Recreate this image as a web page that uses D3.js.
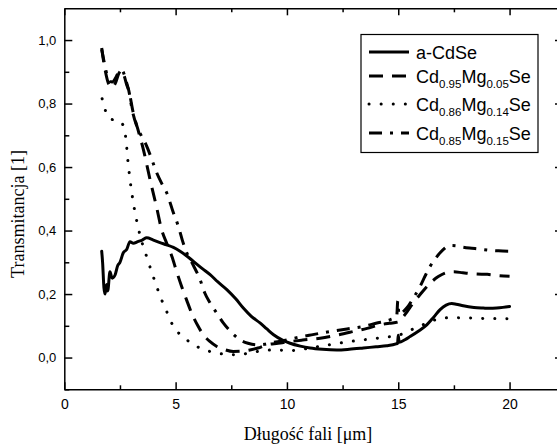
<!DOCTYPE html>
<html>
<head>
<meta charset="utf-8">
<script src="https://cdn.jsdelivr.net/npm/d3@7"></script>
<style>
body { margin: 0; background: #fff; }
svg { display: block; }
</style>
</head>
<body>
<svg width="557" height="447"></svg>
<script>
// wavelength [um] / transmittance for each sample
const cdseX = [1.68, 1.72, 1.78, 1.83, 1.9, 1.95, 2.05, 2.15, 2.28, 2.4, 2.5, 2.65, 2.8, 2.95, 3.1, 3.3, 3.5, 3.7, 4.0, 4.3, 4.6, 4.9, 5.2, 5.5, 5.8, 6.2, 6.55, 6.9, 7.3, 7.7, 8.04, 8.4, 8.79, 9.1, 9.4, 9.8, 10.14, 10.6, 11.04, 11.6, 12.24, 12.8, 13.43, 14.0, 14.48, 14.9, 14.97, 15.0, 15.04, 15.3, 15.53, 15.9, 16.28, 16.6, 16.88, 17.15, 17.4, 17.6, 17.92, 18.4, 18.82, 19.1, 19.42, 19.7, 20.0];
const cdseY = [0.335, 0.30, 0.22, 0.20, 0.23, 0.21, 0.27, 0.25, 0.26, 0.29, 0.30, 0.33, 0.34, 0.365, 0.36, 0.365, 0.37, 0.377, 0.37, 0.362, 0.355, 0.347, 0.335, 0.32, 0.303, 0.28, 0.261, 0.238, 0.214, 0.185, 0.156, 0.13, 0.109, 0.09, 0.072, 0.055, 0.045, 0.036, 0.03, 0.026, 0.024, 0.026, 0.03, 0.034, 0.037, 0.043, 0.045, 0.07, 0.048, 0.056, 0.066, 0.083, 0.103, 0.128, 0.151, 0.165, 0.170, 0.168, 0.163, 0.158, 0.156, 0.155, 0.156, 0.158, 0.161];

const mg05X = [1.68, 1.75, 1.85, 1.95, 2.05, 2.15, 2.3, 2.45, 2.58, 2.7, 2.8, 2.9, 3.1, 3.3, 3.55, 3.85, 4.15, 4.37, 4.6, 4.83, 5.05, 5.27, 5.5, 5.72, 6.0, 6.24, 6.55, 6.85, 7.2, 7.59, 8.0, 8.34, 8.7, 9.09, 9.6, 10.1, 10.7, 11.49, 12.2, 12.98, 13.6, 14.18, 14.6, 15.0, 15.3, 15.6, 16.0, 16.4, 16.8, 17.2, 17.5, 17.9, 18.5, 19.0, 19.5, 20.0];
const mg05Y = [0.975, 0.94, 0.90, 0.87, 0.855, 0.85, 0.865, 0.895, 0.905, 0.885, 0.86, 0.84, 0.77, 0.72, 0.656, 0.561, 0.472, 0.403, 0.36, 0.319, 0.27, 0.224, 0.18, 0.14, 0.10, 0.072, 0.05, 0.035, 0.025, 0.019, 0.02, 0.024, 0.03, 0.04, 0.045, 0.05, 0.055, 0.061, 0.07, 0.082, 0.092, 0.103, 0.108, 0.112, 0.135, 0.165, 0.2, 0.232, 0.255, 0.268, 0.27, 0.267, 0.263, 0.262, 0.258, 0.256];

const mg14X = [1.7, 1.8, 1.9, 2.0, 2.13, 2.3, 2.43, 2.55, 2.65, 2.72, 2.77, 2.85, 2.95, 3.1, 3.32, 3.5, 3.66, 4.0, 4.37, 4.6, 4.9, 5.2, 5.5, 5.8, 6.1, 6.5, 6.85, 7.3, 7.74, 8.2, 8.64, 9.0, 9.39, 10.14, 10.6, 11.04, 11.6, 12.3, 13.0, 13.7, 14.4, 15.0, 15.5, 16.0, 16.5, 17.0, 17.5, 18.0, 18.5, 19.0, 19.5, 20.0];
const mg14Y = [0.815, 0.79, 0.766, 0.755, 0.75, 0.748, 0.745, 0.74, 0.73, 0.71, 0.687, 0.624, 0.561, 0.488, 0.409, 0.36, 0.326, 0.254, 0.182, 0.145, 0.098, 0.073, 0.056, 0.04, 0.03, 0.02, 0.014, 0.01, 0.009, 0.013, 0.019, 0.022, 0.024, 0.022, 0.025, 0.03, 0.037, 0.045, 0.052, 0.058, 0.064, 0.07, 0.085, 0.1, 0.115, 0.124, 0.126, 0.125, 0.124, 0.123, 0.123, 0.122];

const mg15X = [1.68, 1.75, 1.85, 1.95, 2.05, 2.15, 2.3, 2.45, 2.58, 2.7, 2.8, 2.9, 3.05, 3.25, 3.45, 3.7, 3.9, 4.15, 4.4, 4.6, 4.9, 5.12, 5.3, 5.5, 5.8, 6.1, 6.3, 6.55, 6.85, 7.14, 7.5, 7.89, 8.25, 8.64, 9.0, 9.39, 9.8, 10.14, 11.0, 11.93, 12.7, 13.43, 14.0, 14.63, 14.93, 14.98, 15.03, 15.2, 15.38, 15.7, 15.98, 16.2, 16.43, 16.65, 16.88, 17.1, 17.33, 17.6, 17.9, 18.2, 18.6, 19.1, 19.5, 19.95];
const mg15Y = [0.97, 0.945, 0.91, 0.885, 0.87, 0.868, 0.88, 0.9, 0.905, 0.89, 0.865, 0.84, 0.78, 0.73, 0.70, 0.666, 0.63, 0.582, 0.545, 0.519, 0.456, 0.414, 0.37, 0.33, 0.29, 0.245, 0.205, 0.172, 0.14, 0.109, 0.08, 0.056, 0.045, 0.040, 0.042, 0.048, 0.052, 0.058, 0.07, 0.082, 0.09, 0.098, 0.108, 0.119, 0.13, 0.178, 0.135, 0.143, 0.156, 0.19, 0.224, 0.256, 0.287, 0.31, 0.33, 0.345, 0.353, 0.352, 0.348, 0.345, 0.342, 0.338, 0.336, 0.335];

const xMajor = [0, 5, 10, 15, 20];
const xMinor = [2.5, 7.5, 12.5, 17.5, 22.5];
const yMajor = [0, 0.2, 0.4, 0.6, 0.8, 1.0];
const yMinor = [-0.1, 0.1, 0.3, 0.5, 0.7, 0.9];

// legend labels as [text, subscript] pieces
const legendLabels = [
  [["a-CdSe", ""]],
  [["Cd", "0.95"], ["Mg", "0.05"], ["Se", ""]],
  [["Cd", "0.86"], ["Mg", "0.14"], ["Se", ""]],
  [["Cd", "0.85"], ["Mg", "0.15"], ["Se", ""]]
];

const series = [
  { xs: cdseX, ys: cdseY, dash: null, cap: "round" },
  { xs: mg05X, ys: mg05Y, dash: "14,9", cap: "butt" },
  { xs: mg14X, ys: mg14Y, dash: "0.1,12", cap: "round" },
  { xs: mg15X, ys: mg15Y, dash: "13,8,3,8", cap: "butt" }
];

const svg = d3.select("svg");
const plotLeft = 64.3, plotRight = 563, plotTop = 8.3, plotBottom = 389.3;

const x = d3.scaleLinear().domain([0, 22.4]).range([plotLeft, plotRight]);
const y = d3.scaleLinear().domain([-0.1, 1.1]).range([plotBottom, plotTop]);

const fmt = d => d3.format(".1f")(d).replace(".", ",");

function styleAxis(g) {
  g.selectAll("path, line").attr("stroke", "#000").attr("stroke-width", 1.5);
  g.selectAll("text").attr("fill", "#000")
    .style("font-family", "'Liberation Sans', Arial, sans-serif");
}

// bottom
svg.append("g").attr("transform", "translate(0," + plotBottom + ")")
  .call(d3.axisBottom(x).tickValues(xMajor).tickSizeInner(-7).tickSizeOuter(0).tickPadding(10).tickFormat(d3.format("d")))
  .call(styleAxis)
  .call(g => g.selectAll("text").style("font-size", "14px"));
svg.append("g").attr("transform", "translate(0," + plotBottom + ")")
  .call(d3.axisBottom(x).tickValues(xMinor).tickSize(-4).tickFormat(""))
  .call(styleAxis).call(g => g.select(".domain").remove());

// top
svg.append("g").attr("transform", "translate(0," + plotTop + ")")
  .call(d3.axisTop(x).tickValues(xMajor).tickSizeInner(-7).tickSizeOuter(0).tickFormat(""))
  .call(styleAxis);
svg.append("g").attr("transform", "translate(0," + plotTop + ")")
  .call(d3.axisTop(x).tickValues(xMinor).tickSize(-4).tickFormat(""))
  .call(styleAxis).call(g => g.select(".domain").remove());

// left
svg.append("g").attr("transform", "translate(" + plotLeft + ",0)")
  .call(d3.axisLeft(y).tickValues(yMajor).tickSizeInner(-8).tickSizeOuter(0).tickPadding(8).tickFormat(fmt))
  .call(styleAxis)
  .call(g => g.selectAll("text").style("font-size", "13px"));
svg.append("g").attr("transform", "translate(" + plotLeft + ",0)")
  .call(d3.axisLeft(y).tickValues(yMinor).tickSize(-5).tickFormat(""))
  .call(styleAxis).call(g => g.select(".domain").remove());

// right
svg.append("g").attr("transform", "translate(" + plotRight + ",0)")
  .call(d3.axisRight(y).tickValues(yMajor).tickSizeInner(-8).tickSizeOuter(0).tickFormat(""))
  .call(styleAxis);
svg.append("g").attr("transform", "translate(" + plotRight + ",0)")
  .call(d3.axisRight(y).tickValues(yMinor).tickSize(-5).tickFormat(""))
  .call(styleAxis).call(g => g.select(".domain").remove());

// curves
const line = d3.line()
  .x(d => x(d[0]))
  .y(d => y(d[1]))
  .curve(d3.curveMonotoneX);

series.forEach(s => {
  const pts = s.xs.map((v, i) => [v, s.ys[i]]);
  svg.append("path")
    .datum(pts)
    .attr("fill", "none")
    .attr("stroke", "#000")
    .attr("stroke-width", 3)
    .attr("stroke-linecap", s.cap)
    .attr("stroke-linejoin", "round")
    .attr("stroke-dasharray", s.dash)
    .attr("d", line);
});

// legend
const legend = svg.append("g");
legend.append("rect")
  .attr("x", 361).attr("y", 34.5).attr("width", 177).attr("height", 118)
  .attr("fill", "#fff").attr("stroke", "#000").attr("stroke-width", 1.2);

const rowY = [52, 76, 104, 133];
legendLabels.forEach((parts, i) => {
  const s = series[i];
  legend.append("line")
    .attr("x1", 369).attr("x2", 409)
    .attr("y1", rowY[i]).attr("y2", rowY[i])
    .attr("stroke", "#000").attr("stroke-width", 3)
    .attr("stroke-linecap", s.dash && s.cap === "round" ? "round" : "butt")
    .attr("stroke-dasharray", s.dash);
  const t = legend.append("text")
    .attr("x", 416).attr("y", rowY[i] + 6.5)
    .style("font-family", "'Liberation Sans', Arial, sans-serif")
    .style("font-size", "18px");
  let shifted = false;
  parts.forEach(p => {
    t.append("tspan").attr("dy", shifted ? -5 : 0).text(p[0]);
    shifted = false;
    if (p[1]) {
      t.append("tspan").attr("dy", 5).style("font-size", "11.5px").text(p[1]);
      shifted = true;
    }
  });
});

// axis titles
svg.append("text")
  .attr("x", 308).attr("y", 440)
  .attr("text-anchor", "middle")
  .style("font-family", "'Liberation Serif', 'Times New Roman', serif")
  .style("font-size", "18px")
  .text("Długość fali [μm]");

svg.append("text")
  .attr("transform", "translate(24,214) rotate(-90)")
  .attr("text-anchor", "middle")
  .style("font-family", "'Liberation Serif', 'Times New Roman', serif")
  .style("font-size", "18px")
  .text("Transmitancja [1]");
</script>
</body>
</html>
